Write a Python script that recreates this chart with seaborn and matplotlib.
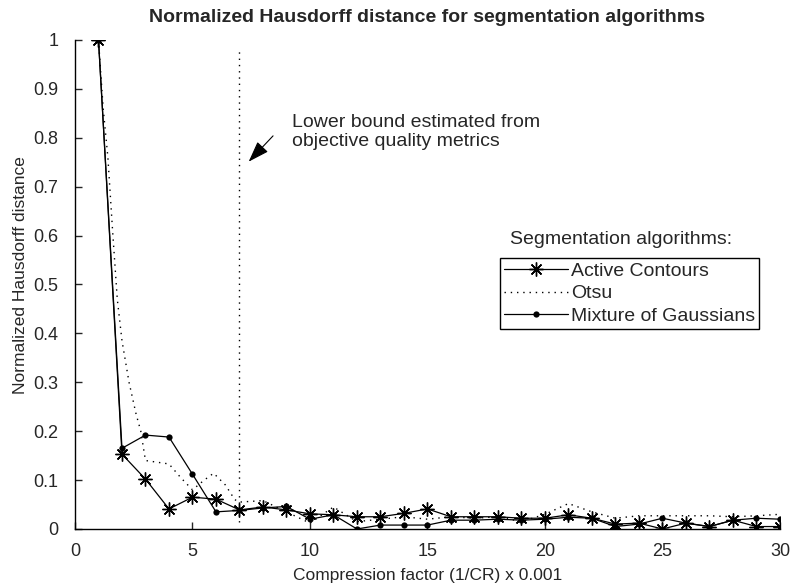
import numpy as np
import pandas as pd
import matplotlib
matplotlib.use("Agg")
import matplotlib.pyplot as plt
import seaborn as sns

# compression factor (1/CR) x 0.001
x_int = list(range(1, 31))

active_contours = [1.0, 0.153, 0.102, 0.041, 0.065, 0.061, 0.039, 0.045, 0.039, 0.031,
                   0.029, 0.025, 0.025, 0.032, 0.041, 0.025, 0.025, 0.025, 0.022, 0.022,
                   0.029, 0.022, 0.01, 0.012, 0.0, 0.012, 0.005, 0.018, 0.005, 0.005]

mixture_gauss = [1.0, 0.165, 0.192, 0.188, 0.112, 0.035, 0.038, 0.043, 0.046, 0.02,
                 0.029, 0.0, 0.008, 0.008, 0.008, 0.018, 0.018, 0.02, 0.018, 0.02,
                 0.024, 0.022, 0.005, 0.01, 0.022, 0.012, 0.005, 0.018, 0.022, 0.02]

# Otsu curve is drawn smoother, so it has a few extra points at the start
otsu_x = [1, 1.2, 1.4, 1.6, 1.8, 2, 2.3, 2.6, 2.8, 3, 4, 4.5, 5, 5.5, 5.9, 6.4, 6.8, 7,
          8, 9, 10, 11, 12, 13, 14, 15, 16, 17, 18, 19, 20, 21, 22, 23, 24, 25, 26, 27,
          28, 29, 30]
otsu_y = [1.0, 0.86, 0.76, 0.61, 0.47, 0.385, 0.3, 0.235, 0.2, 0.14, 0.133, 0.105, 0.08,
          0.1, 0.114, 0.09, 0.06, 0.055, 0.058, 0.035, 0.012, 0.045, 0.015, 0.02, 0.025,
          0.02, 0.025, 0.022, 0.025, 0.015, 0.03, 0.052, 0.035, 0.022, 0.027, 0.027,
          0.027, 0.027, 0.025, 0.027, 0.03]

bound_x = 7
bound_y = [0.015, 0.98]

df_ac = pd.DataFrame({"x": x_int, "y": active_contours})
df_mog = pd.DataFrame({"x": x_int, "y": mixture_gauss})
df_otsu = pd.DataFrame({"x": otsu_x, "y": otsu_y})

sns.set_style("ticks")
plt.rcParams["font.family"] = ["Liberation Sans", "DejaVu Sans"]

fig = plt.figure(figsize=(7.91, 5.86), dpi=100)
ax = fig.add_axes([0.0948, 0.0973, 0.8912, 0.8345])

asterisk = (8, 2, 0)
sns.lineplot(data=df_ac, x="x", y="y", ax=ax, color="black", lw=0.9,
             marker=asterisk, markersize=10, markeredgewidth=1.0,
             markeredgecolor="black", label="Active Contours")
sns.lineplot(data=df_otsu, x="x", y="y", ax=ax, color="black", lw=1.0,
             linestyle=(0, (1, 3.5)), label="Otsu")
sns.lineplot(data=df_mog, x="x", y="y", ax=ax, color="black", lw=0.9,
             marker="o", markersize=4.5, markeredgewidth=0,
             label="Mixture of Gaussians")

ax.plot([bound_x, bound_x], bound_y, color="black", lw=1.0, linestyle=(0, (1, 3.5)))

ax.annotate("", xy=(7.31, 0.747), xytext=(8.51, 0.808),
            arrowprops=dict(arrowstyle="-|>,head_length=1.3,head_width=0.45",
                            color="black", lw=0.8))
ax.text(9.22, 0.812, "Lower bound estimated from\nobjective quality metrics",
        fontsize=14, ha="left", va="center", linespacing=1.15)

ax.set_xlim(0, 30)
ax.set_ylim(0, 1)
ax.set_xticks(range(0, 31, 5))
ax.set_yticks(np.arange(0, 1.01, 0.1))
ax.set_yticklabels(["0", "0.1", "0.2", "0.3", "0.4", "0.5", "0.6", "0.7", "0.8", "0.9", "1"])
ax.tick_params(direction="in", length=5, labelsize=13, width=1)
ax.tick_params(axis="y", pad=12)
ax.tick_params(axis="x", pad=10)
for side in ["top", "right"]:
    ax.spines[side].set_visible(False)
for side in ["left", "bottom"]:
    ax.spines[side].set_linewidth(1)
    ax.spines[side].set_color("black")

ax.set_xlabel("Compression factor (1/CR) x 0.001", fontsize=12.5, labelpad=6)
ax.set_ylabel("Normalized Hausdorff distance", fontsize=12.5)
ax.yaxis.set_label_coords(-0.066, 0.52)
ax.set_title("Normalized Hausdorff distance for segmentation algorithms",
             fontsize=14, fontweight="bold", pad=13)

ax.text(0.617, 0.591, "Segmentation algorithms:", transform=ax.transAxes,
        fontsize=14, ha="left", va="center")
leg = ax.legend(loc="upper left", bbox_to_anchor=(0.603, 0.554), borderaxespad=0,
                fancybox=False, edgecolor="black", framealpha=1, fontsize=14,
                handlelength=3.3, handletextpad=0.15, borderpad=0.2, labelspacing=0.27)
leg.get_frame().set_linewidth(1)

fig.savefig("out.png", dpi=100)
